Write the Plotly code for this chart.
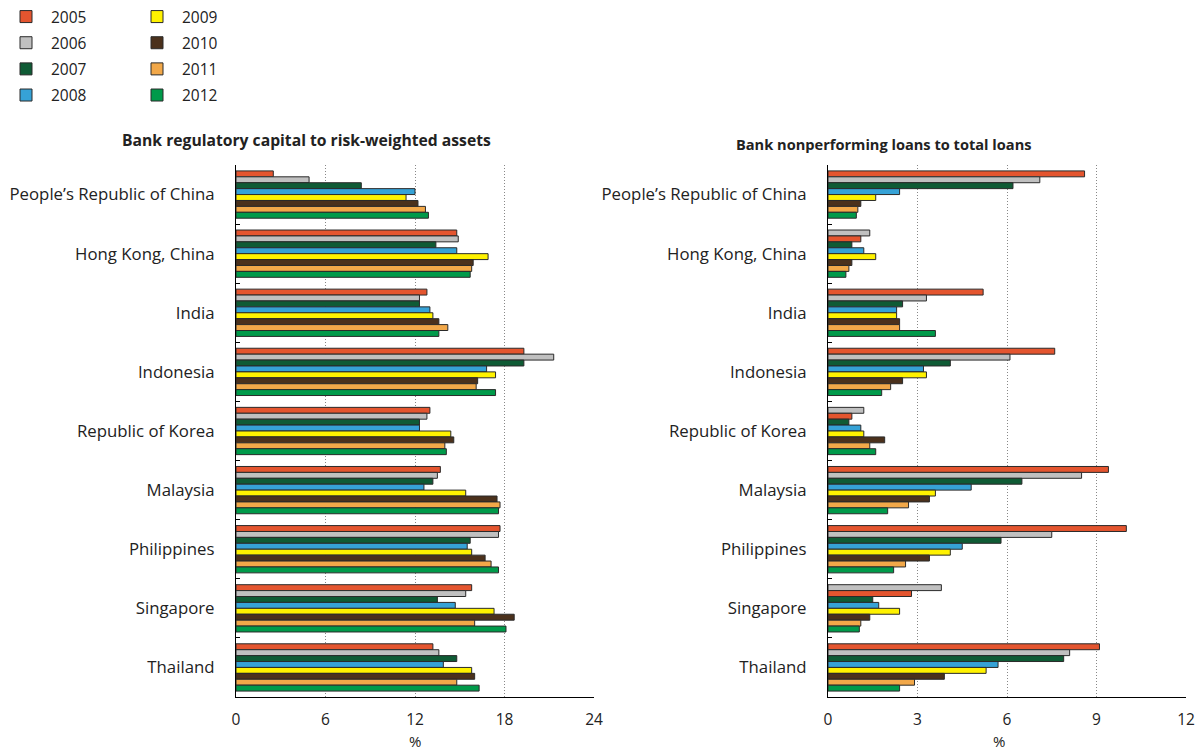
import plotly.graph_objects as go

economies = ["People\u2019s Republic of China", "Hong Kong, China", "India", "Indonesia",
             "Republic of Korea", "Malaysia", "Philippines", "Singapore", "Thailand"]
years = ["2005", "2006", "2007", "2008", "2009", "2010", "2011", "2012"]
colors = ["#E4552F", "#C0C0C0", "#0F5B35", "#36A2D6", "#FFF200", "#4B311C", "#F2A849", "#009A4A"]

# Bank regulatory capital to risk-weighted assets (%)
car = {
    "2005": [2.5, 14.8, 12.8, 19.3, 13.0, 13.7, 17.7, 15.8, 13.2],
    "2006": [4.9, 14.9, 12.3, 21.3, 12.8, 13.5, 17.6, 15.4, 13.6],
    "2007": [8.4, 13.4, 12.3, 19.3, 12.3, 13.2, 15.7, 13.5, 14.8],
    "2008": [12.0, 14.8, 13.0, 16.8, 12.3, 12.6, 15.5, 14.7, 13.9],
    "2009": [11.4, 16.9, 13.2, 17.4, 14.4, 15.4, 15.8, 17.3, 15.8],
    "2010": [12.2, 15.9, 13.6, 16.2, 14.6, 17.5, 16.7, 18.65, 16.0],
    "2011": [12.7, 15.8, 14.2, 16.1, 14.0, 17.7, 17.1, 16.0, 14.8],
    "2012": [12.9, 15.7, 13.6, 17.4, 14.1, 17.6, 17.6, 18.1, 16.3],
}

# Bank nonperforming loans to total loans (%)
npl = {
    "2005": [8.6, 1.1, 5.2, 7.6, 0.8, 9.4, 10.0, 2.8, 9.1],
    "2006": [7.1, 1.4, 3.3, 6.1, 1.2, 8.5, 7.5, 3.8, 8.1],
    "2007": [6.2, 0.8, 2.5, 4.1, 0.7, 6.5, 5.8, 1.5, 7.9],
    "2008": [2.4, 1.2, 2.3, 3.2, 1.1, 4.8, 4.5, 1.7, 5.7],
    "2009": [1.6, 1.6, 2.3, 3.3, 1.2, 3.6, 4.1, 2.4, 5.3],
    "2010": [1.1, 0.8, 2.4, 2.5, 1.9, 3.4, 3.4, 1.4, 3.9],
    "2011": [1.0, 0.7, 2.4, 2.1, 1.4, 2.7, 2.6, 1.1, 2.9],
    "2012": [0.95, 0.6, 3.6, 1.8, 1.6, 2.0, 2.2, 1.05, 2.4],
}
# In the source, these economies show the 2006 bar above the 2005 bar
npl_2006_first = ["Hong Kong, China", "Republic of Korea", "Singapore"]

car_ticks = [0, 6, 12, 18, 24]
npl_ticks = [0, 3, 6, 9, 12]

W, H = 1196, 755


def px(x):
    return x / W


def py(y):
    return 1 - y / H


FONT = "Open Sans"
line_style = dict(color="#2a2a2a", width=1)

fig = go.Figure()

for i, yr in enumerate(years):
    fig.add_trace(go.Bar(
        y=economies, x=car[yr], orientation="h", name=yr,
        marker=dict(color=colors[i], line=line_style),
        xaxis="x", yaxis="y", legendgroup=yr,
        legend="legend" if i < 4 else "legend2",
    ))

for i, yr in enumerate(years):
    vals, cols = [], []
    for j, e in enumerate(economies):
        k = (1 - i) if (i < 2 and e in npl_2006_first) else i
        vals.append(npl[years[k]][j])
        cols.append(colors[k])
    fig.add_trace(go.Bar(
        y=economies, x=vals, orientation="h", name=yr,
        marker=dict(color=cols, line=line_style),
        xaxis="x2", yaxis="y2", legendgroup=yr, showlegend=False,
    ))

y_top, y_bot = 165, 697
ydom = [py(y_bot), py(y_top)]
x1dom = [px(236), px(594)]
x2dom = [px(828), px(1186)]

xaxis_common = dict(
    showline=True, linecolor="#000", linewidth=1.2,
    showgrid=True, gridcolor="#888888", griddash="1px,2px", gridwidth=1,
    zeroline=False, ticks="", tickfont=dict(family=FONT, size=15.5, color="#222"),
    ticklabelstandoff=8, automargin=False, fixedrange=True,
)
yaxis_common = dict(
    type="category", autorange="reversed", showline=True, linecolor="#000", linewidth=1.2,
    ticks="inside", ticklen=4, tickcolor="#000", tickson="boundaries",
    tickfont=dict(family=FONT, size=16.8, color="#222"), ticklabelstandoff=17,
    showgrid=False, automargin=False, fixedrange=True,
)

legend_common = dict(xanchor="left", yanchor="top", font=dict(family=FONT, size=15.5, color="#222"),
                     tracegroupgap=3, bgcolor="rgba(0,0,0,0)", itemwidth=40)

fig.update_layout(
    width=W, height=H, margin=dict(l=0, r=0, t=0, b=0),
    paper_bgcolor="white", plot_bgcolor="white",
    barmode="group", bargap=0.2, bargroupgap=0,
    xaxis=dict(domain=x1dom, range=[0, 24], tickvals=car_ticks, anchor="y", **xaxis_common),
    yaxis=dict(domain=ydom, anchor="x", **yaxis_common),
    xaxis2=dict(domain=x2dom, range=[0, 12], tickvals=npl_ticks, anchor="y2", **xaxis_common),
    yaxis2=dict(domain=ydom, anchor="x2", **yaxis_common),
    legend=dict(x=px(1), y=py(0), **legend_common),
    legend2=dict(x=px(132), y=py(0), **legend_common),
    font=dict(family=FONT, color="#222"),
    annotations=[
        dict(text="<b>Bank regulatory capital to risk-weighted assets</b>", xref="paper", yref="paper",
             x=px(306), y=py(140), showarrow=False, font=dict(family=FONT, size=15.7, color="#222"),
             xanchor="center", yanchor="middle"),
        dict(text="<b>Bank nonperforming loans to total loans</b>", xref="paper", yref="paper",
             x=px(884), y=py(144), showarrow=False, font=dict(family=FONT, size=14.6, color="#222"),
             xanchor="center", yanchor="middle"),
        dict(text="%", xref="paper", yref="paper", x=(x1dom[0] + x1dom[1]) / 2, y=py(741),
             showarrow=False, font=dict(family=FONT, size=15, color="#222"), yanchor="middle"),
        dict(text="%", xref="paper", yref="paper", x=(x2dom[0] + x2dom[1]) / 2, y=py(741),
             showarrow=False, font=dict(family=FONT, size=15, color="#222"), yanchor="middle"),
    ],
)

# remove the page's default 8px body margin so the figure fills the window exactly
fig.write_html("out.html", config={"displayModeBar": False},
               post_script="document.body.style.margin='0';")
